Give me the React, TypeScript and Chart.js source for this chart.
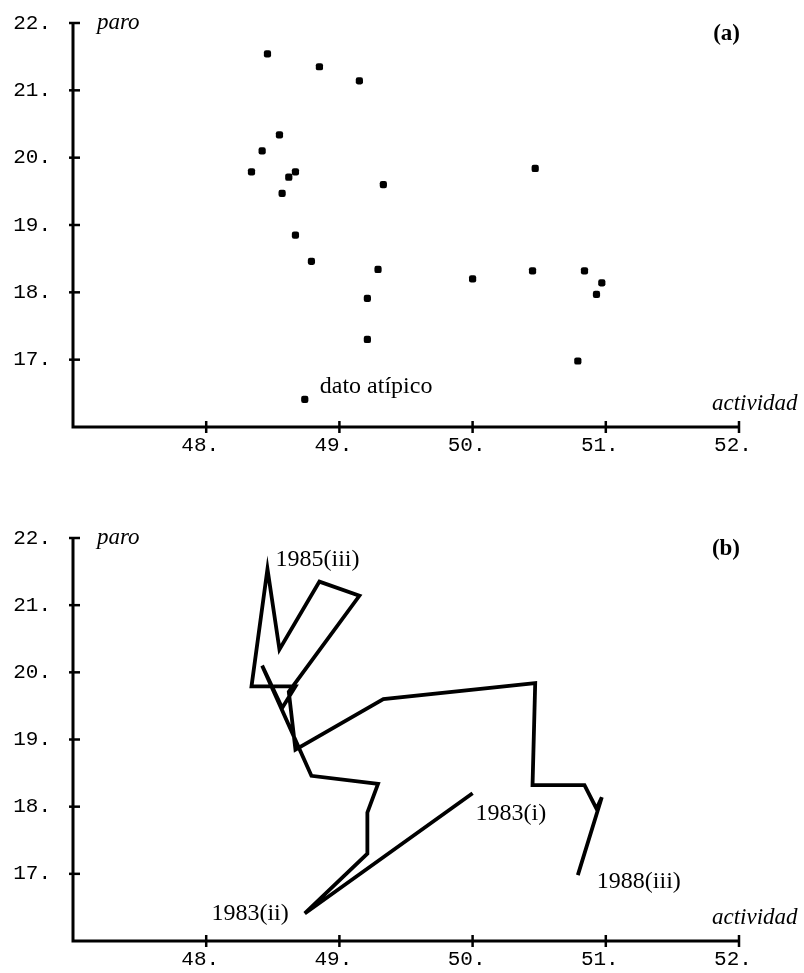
import React, { useEffect, useRef } from 'react';
import { Chart, registerables } from 'chart.js';

Chart.register(...registerables);

// Quarterly observations, 1983(i) .. 1988(iii)
const quarters = [
  '1983(i)', '1983(ii)', '1983(iii)', '1983(iv)',
  '1984(i)', '1984(ii)', '1984(iii)', '1984(iv)',
  '1985(i)', '1985(ii)', '1985(iii)', '1985(iv)',
  '1986(i)', '1986(ii)', '1986(iii)', '1986(iv)',
  '1987(i)', '1987(ii)', '1987(iii)', '1987(iv)',
  '1988(i)', '1988(ii)', '1988(iii)',
];
const actividad = [
  50.0, 48.74, 49.21, 49.21,
  49.29, 48.79, 48.42, 48.57,
  48.67, 48.34, 48.46, 48.55,
  48.85, 49.15, 48.62, 48.67,
  49.33, 50.47, 50.45, 50.84,
  50.93, 50.97, 50.79,
];
const paro = [
  18.2, 16.41, 17.3, 17.91,
  18.34, 18.46, 20.1, 19.47,
  19.79, 19.79, 21.54, 20.34,
  21.35, 21.14, 19.71, 18.85,
  19.6, 19.84, 18.32, 18.32,
  17.97, 18.14, 16.98,
];
const xTicks = [48, 49, 50, 51, 52];
const yTicks = [17, 18, 19, 20, 21, 22];
const xRange = [47, 52];
const yRange = [16, 22];
const xTitle = 'actividad';
const yTitle = 'paro';
const outlierNote = 'dato atípico';
const labelledQuarters = ['1983(i)', '1983(ii)', '1985(iii)', '1988(iii)'];

type Note = { q: string; text: string; dx: number; dy: number; align: CanvasTextAlign };

const decorPlugin = {
  id: 'decor',
  afterDraw(chart: any, _args: any, opts: any) {
    const ctx = chart.ctx as CanvasRenderingContext2D;
    const xs = chart.scales.x;
    const ys = chart.scales.y;
    const left = xs.getPixelForValue(xRange[0]);
    const right = xs.getPixelForValue(xRange[1]);
    const top = ys.getPixelForValue(yRange[1]);
    const bottom = ys.getPixelForValue(yRange[0]);
    ctx.save();
    ctx.strokeStyle = '#000';
    ctx.lineWidth = 3;
    ctx.lineCap = 'butt';
    ctx.beginPath();
    ctx.moveTo(left, top);
    ctx.lineTo(left, bottom);
    ctx.lineTo(right, bottom);
    ctx.stroke();
    ctx.lineWidth = 2.5;
    for (const v of yTicks) {
      const y = ys.getPixelForValue(v);
      ctx.beginPath();
      ctx.moveTo(left - 4, y);
      ctx.lineTo(left + 7, y);
      ctx.stroke();
    }
    for (const v of xTicks) {
      const x = xs.getPixelForValue(v);
      ctx.beginPath();
      ctx.moveTo(x, bottom - 6);
      ctx.lineTo(x, bottom + 6);
      ctx.stroke();
    }
    ctx.fillStyle = '#000';
    ctx.textBaseline = 'alphabetic';
    ctx.font = 'italic 23px "Liberation Serif"';
    ctx.textAlign = 'left';
    ctx.fillText(yTitle, left + 24, top + 6);
    ctx.fillText(xTitle, right - 27, bottom - 17);
    ctx.font = 'bold 23px "Liberation Serif"';
    ctx.textAlign = 'right';
    ctx.fillText(opts.panel, right + 1, top + 17);
    ctx.font = '24px "Liberation Serif"';
    for (const n of (opts.notes || []) as Note[]) {
      const i = quarters.indexOf(n.q);
      const px = xs.getPixelForValue(actividad[i]);
      const py = ys.getPixelForValue(paro[i]);
      ctx.textAlign = n.align;
      ctx.fillText(n.text, px + n.dx, py + n.dy);
    }
    ctx.restore();
  },
};

function buildConfig(panel: 'a' | 'b', padTop: number, axisH: number): any {
  const pts = actividad.map((x, i) => ({ x, y: paro[i] }));
  const isA = panel === 'a';
  const notes: Note[] = isA
    ? [{ q: '1983(ii)', text: outlierNote, dx: 15, dy: -6, align: 'left' }]
    : [
        { q: labelledQuarters[0], text: labelledQuarters[0], dx: 3, dy: 27, align: 'left' },
        { q: labelledQuarters[1], text: labelledQuarters[1], dx: -16, dy: 7, align: 'right' },
        { q: labelledQuarters[2], text: labelledQuarters[2], dx: 8, dy: -3, align: 'left' },
        { q: labelledQuarters[3], text: labelledQuarters[3], dx: 19, dy: 13, align: 'left' },
      ];
  return {
    type: 'scatter',
    data: {
      datasets: [
        isA
          ? {
              data: pts,
              showLine: false,
              pointStyle: 'rectRounded',
              pointRadius: 4.2,
              backgroundColor: '#000',
              borderColor: '#000',
              borderWidth: 0,
            }
          : {
              data: pts,
              showLine: true,
              pointRadius: 0,
              borderColor: '#000',
              borderWidth: 3.8,
              borderJoinStyle: 'miter',
              tension: 0,
            },
      ],
    },
    options: {
      animation: false,
      responsive: false,
      events: [],
      layout: { padding: { top: padTop, right: 65, left: 0, bottom: 0 } },
      plugins: {
        legend: { display: false },
        tooltip: { enabled: false },
        decor: { panel: isA ? '(a)' : '(b)', notes },
      },
      scales: {
        x: {
          type: 'linear',
          min: xRange[0],
          max: xRange[1],
          grid: { display: true, drawOnChartArea: false, drawTicks: true, tickLength: 6, color: 'rgba(0,0,0,0)' },
          border: { display: false },
          afterBuildTicks: (s: any) => {
            s.ticks = [xRange[0], ...xTicks].map((v) => ({ value: v }));
          },
          afterFit: (s: any) => {
            s.height = axisH;
          },
          ticks: {
            color: '#000',
            font: { family: '"Liberation Mono"', size: 21 },
            padding: 0,
            labelOffset: -6,
            maxRotation: 0,
            autoSkip: false,
            callback: (v: number) => (xTicks.includes(v) ? v + '.' : ''),
          },
        },
        y: {
          type: 'linear',
          min: yRange[0],
          max: yRange[1],
          grid: { display: true, drawOnChartArea: false, drawTicks: true, tickLength: 22, color: 'rgba(0,0,0,0)' },
          border: { display: false },
          afterBuildTicks: (s: any) => {
            s.ticks = [yRange[0], ...yTicks].map((v) => ({ value: v }));
          },
          afterFit: (s: any) => {
            s.width = 73;
          },
          ticks: {
            color: '#000',
            font: { family: '"Liberation Mono"', size: 21 },
            padding: 0,
            autoSkip: false,
            callback: (v: number) => (yTicks.includes(v) ? v + '.' : ''),
          },
        },
      },
    },
    plugins: [decorPlugin],
  };
}

function Panel({ panel, height, padTop, axisH }: { panel: 'a' | 'b'; height: number; padTop: number; axisH: number }) {
  const ref = useRef<HTMLCanvasElement>(null);
  useEffect(() => {
    if (!ref.current) return;
    const chart = new Chart(ref.current, buildConfig(panel, padTop, axisH));
    return () => chart.destroy();
  }, [panel, padTop, axisH]);
  return <canvas ref={ref} width={804} height={height} style={{ display: 'block', width: 804, height }} />;
}

export default function App() {
  return (
    <div style={{ position: 'absolute', left: 0, top: 0, width: 804, height: 973, background: '#fff' }}>
      <Panel panel="a" height={487} padTop={23} axisH={60} />
      <Panel panel="b" height={486} padTop={51} axisH={32} />
    </div>
  );
}
